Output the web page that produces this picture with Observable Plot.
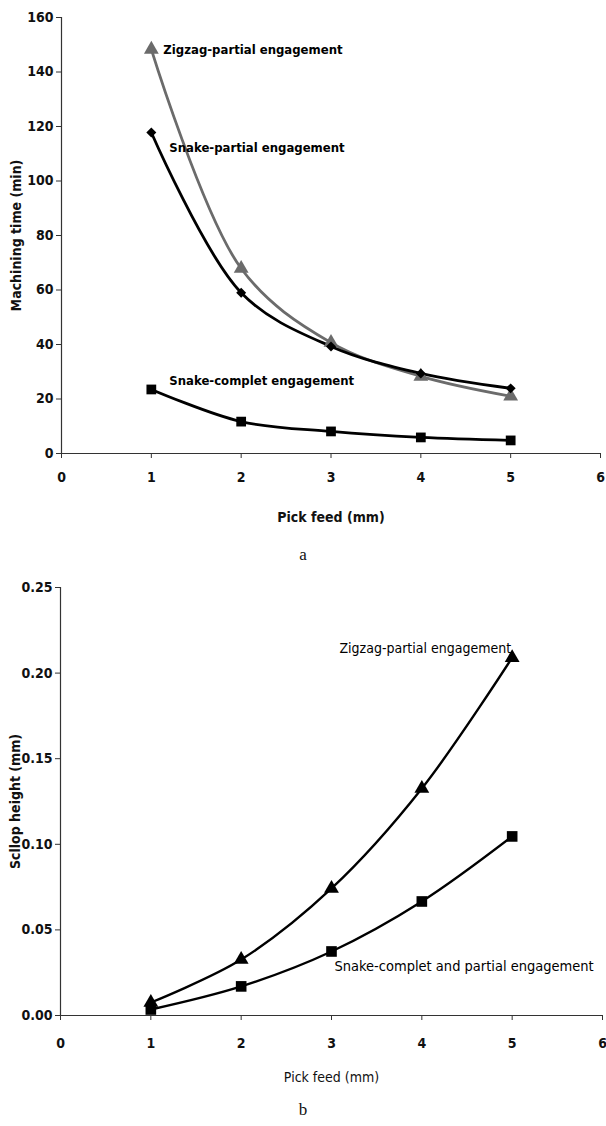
<!DOCTYPE html>
<html><head><meta charset="utf-8">
<script src="https://cdn.jsdelivr.net/npm/d3@7"></script>
<script src="https://cdn.jsdelivr.net/npm/@observablehq/plot@0.6"></script>
<style>
body{margin:0;background:#fff;width:606px;height:1126px;position:relative;overflow:hidden}
.cap{position:absolute;left:0;width:606px;text-align:center;font-family:"Liberation Serif","DejaVu Serif",serif;font-size:17px;color:#111}
#a,#b{position:absolute;left:0}
#a{top:0}#b{top:570px}
</style></head><body>
<div id="a"></div><div class="cap" style="top:545px">a</div>
<div id="b"></div><div class="cap" style="top:1100px">b</div>
<script>
// ---- data ----
const pickFeed = [1, 2, 3, 4, 5];
const xTicks = [0, 1, 2, 3, 4, 5, 6];
// chart a: machining time (min)
const timeZigzagPartial = [148.3, 67.9, 40.7, 28.3, 21.0];
const timeSnakePartial  = [117.8, 59.0, 39.3, 29.4, 23.9];
const timeSnakeComplet  = [23.5, 11.7, 8.1, 5.9, 4.8];
const yTicksA = [0, 20, 40, 60, 80, 100, 120, 140, 160];
const seriesA = ["Zigzag-partial engagement", "Snake-partial engagement", "Snake-complet engagement"];
// chart b: scallop height (mm)
const heightZigzagPartial = [0.0076, 0.0327, 0.0742, 0.1326, 0.2090];
const heightSnake         = [0.0035, 0.0170, 0.0374, 0.0666, 0.1046];
const yTicksB = [0, 0.05, 0.10, 0.15, 0.20, 0.25];
const seriesB = ["Zigzag-partial engagement", "Snake-complet and partial engagement"];

const font = '"Liberation Sans Narrow","Arial Narrow","DejaVu Sans Condensed","Liberation Sans",Arial,sans-serif';

// ---- chart a ----
const dataA = [];
[timeZigzagPartial, timeSnakePartial, timeSnakeComplet].forEach((vals, i) =>
  pickFeed.forEach((x, j) => dataA.push({series: seriesA[i], x, y: vals[j]})));
const colorA = {[seriesA[0]]: "#6b6b6b", [seriesA[1]]: "#000", [seriesA[2]]: "#000"};
const ofA = (s) => dataA.filter(d => d.series === s);
const firstOf = (arr, s) => arr.filter(d => d.series === s && d.x === pickFeed[0]);

const chartA = Plot.plot({
  width: 606, height: 535,
  marginLeft: 61, marginRight: 6, marginTop: 17, marginBottom: 82,
  style: {fontFamily: font, fontSize: "14px", fontWeight: "bold", color: "#111", background: "#fff"},
  x: {domain: [0, 6]},
  y: {domain: [0, 160]},
  marks: [
    Plot.axisX({ticks: xTicks, tickSize: 5, tickPadding: 14, tickFormat: d => String(d), stroke: "#333",
      label: "Pick feed (mm)", labelAnchor: "center", labelArrow: "none", labelOffset: 68}),
    Plot.axisY({ticks: yTicksA, tickSize: 5, tickPadding: 3, tickFormat: d => String(d), stroke: "#333",
      label: "Machining time (min)", labelAnchor: "center", labelArrow: "none", labelOffset: 50}),
    Plot.ruleX([0], {stroke: "#333", strokeWidth: 1.2}),
    Plot.ruleY([0], {stroke: "#333", strokeWidth: 1.2}),
    Plot.line(dataA, {x: "x", y: "y", z: "series", stroke: d => colorA[d.series], curve: "catmull-rom", strokeWidth: 2.8}),
    Plot.dot(ofA(seriesA[0]), {x: "x", y: "y", symbol: "triangle", fill: colorA[seriesA[0]], r: 5.5, stroke: "none"}),
    Plot.dot(ofA(seriesA[1]), {x: "x", y: "y", symbol: "diamond2", fill: "#000", r: 4.5, stroke: "none"}),
    Plot.dot(ofA(seriesA[2]), {x: "x", y: "y", symbol: "square", fill: "#000", r: 5.5, stroke: "none"}),
    Plot.text(firstOf(dataA, seriesA[0]), {x: "x", y: "y", text: "series", textAnchor: "start", fill: "#000", dx: 12, dy: 0, fontSize: 13, fontWeight: "bold"}),
    Plot.text(firstOf(dataA, seriesA[1]), {x: "x", y: "y", text: "series", textAnchor: "start", fill: "#000", dx: 18, dy: 15, fontSize: 13, fontWeight: "bold"}),
    Plot.text(firstOf(dataA, seriesA[2]), {x: "x", y: "y", text: "series", textAnchor: "start", fill: "#000", dx: 18, dy: -9, fontSize: 13, fontWeight: "bold"})
  ]
});
document.getElementById("a").append(chartA);

// ---- chart b ----
const dataB = [];
[heightZigzagPartial, heightSnake].forEach((vals, i) =>
  pickFeed.forEach((x, j) => dataB.push({series: seriesB[i], x, y: vals[j]})));
const ofB = (s) => dataB.filter(d => d.series === s);

const chartB = Plot.plot({
  width: 606, height: 525,
  marginLeft: 60, marginRight: 4, marginTop: 17, marginBottom: 80,
  style: {fontFamily: font, fontSize: "14px", fontWeight: "bold", color: "#111", background: "#fff"},
  x: {domain: [0, 6]},
  y: {domain: [0, 0.25]},
  marks: [
    Plot.axisX({ticks: xTicks, tickSize: 5, tickPadding: 18, tickFormat: d => String(d), stroke: "#333",
      label: null}),
    Plot.axisX({ticks: [], label: "Pick feed (mm)", labelAnchor: "center", labelArrow: "none", labelOffset: 66, fontWeight: "normal"}),
    Plot.axisY({ticks: yTicksB, tickSize: 5, tickPadding: 3, tickFormat: d3.format(".2f"), stroke: "#333",
      label: "Scllop height (mm)", labelAnchor: "center", labelArrow: "none", labelOffset: 50}),
    Plot.ruleX([0], {stroke: "#333", strokeWidth: 1.2}),
    Plot.ruleY([0], {stroke: "#333", strokeWidth: 1.2}),
    Plot.line(dataB, {x: "x", y: "y", z: "series", stroke: "#000", curve: "catmull-rom", strokeWidth: 2.4}),
    Plot.dot(ofB(seriesB[0]), {x: "x", y: "y", symbol: "triangle", fill: "#000", r: 5.5, stroke: "none"}),
    Plot.dot(ofB(seriesB[1]), {x: "x", y: "y", symbol: "square", fill: "#000", r: 6, stroke: "none"}),
    Plot.text(ofB(seriesB[0]).filter(d => d.x === 5), {x: "x", y: "y", text: "series", fill: "#000", fontWeight: "normal", fontSize: 14,
      textAnchor: "end", dx: -1, dy: -9}),
    Plot.text(ofB(seriesB[1]).filter(d => d.x === 3), {x: "x", y: "y", text: "series", fill: "#000", fontWeight: "normal", fontSize: 14.5,
      textAnchor: "start", dx: 3, dy: 15})
  ]
});
document.getElementById("b").append(chartB);
</script>
</body></html>
